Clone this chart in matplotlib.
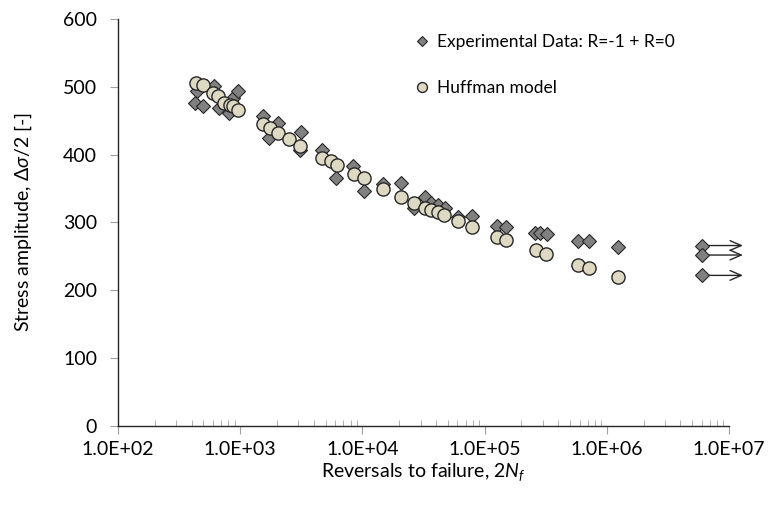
import numpy as np
import matplotlib
matplotlib.use("Agg")
import matplotlib.pyplot as plt
from matplotlib.ticker import FuncFormatter, LogLocator

plt.rcParams["font.family"] = ["Lato", "DejaVu Sans"]
plt.rcParams["mathtext.fontset"] = "custom"
plt.rcParams["mathtext.it"] = "Lato:italic"
plt.rcParams["mathtext.rm"] = "Lato"

# experimental data (reversals, stress amplitude)
exp_n = [440, 427, 493, 611, 675, 809, 880, 967, 1528, 1730, 2050, 3140, 3080,
         4640, 6090, 8440, 10300, 14800, 20900, 26400, 32500, 36200, 41800, 47400,
         61000, 78900, 127000, 151000, 258000, 284000, 322000, 578000, 710000, 1230000]
exp_s = [494, 476, 471, 501, 468, 461, 483, 494, 457, 424, 446, 433, 407,
         407, 365, 383, 347, 357, 358, 321, 338, 328, 326, 321,
         308, 310, 295, 293, 284, 285, 283, 273, 272, 264]
# run-outs
run_n = [5.97e6, 5.97e6, 5.97e6]
run_s = [266, 252, 222]
run_end = 1.3e7

# Huffman model
huf_n = [435, 493, 603, 658, 736, 826, 880, 967, 1528, 1754, 2050, 2510, 3080,
         4640, 5500, 6170, 8540, 10300, 14800, 20900, 26400, 32500, 36200, 41800,
         46800, 61000, 78900, 127000, 151000, 263000, 318000, 578000, 710000, 1230000]
huf_s = [506, 503, 491, 486, 476, 473, 471, 466, 445, 439, 432, 423, 413,
         395, 390, 385, 372, 365, 349, 338, 329, 322, 319, 315,
         311, 302, 294, 279, 274, 259, 254, 237, 233, 220]

fig = plt.figure(figsize=(7.71, 5.12), dpi=100)
ax = fig.add_axes([0.153, 0.168, 0.7925, 0.795])

for n, s in zip(run_n, run_s):
    ax.annotate("", xy=(run_end, s), xytext=(n, s), annotation_clip=False,
                arrowprops=dict(arrowstyle="->,head_length=0.8,head_width=0.35", color="#262626", lw=1.0,
                                shrinkA=0, shrinkB=0), zorder=2)

ax.plot(exp_n + run_n, exp_s + run_s, ls="none", marker="D", ms=7, mfc="#808080", mec="#262626",
        mew=0.8, label="Experimental Data: R=-1 + R=0", zorder=3, clip_on=False)
ax.plot(huf_n, huf_s, ls="none", marker="o", ms=9.5, mfc="#DDD9C3", mec="#262626",
        mew=1.0, label="Huffman model", zorder=4, clip_on=False)

ax.set_xscale("log")
ax.set_xlim(1e2, 1e7)
ax.set_ylim(0, 600)
ax.set_yticks(np.arange(0, 601, 100))
ax.xaxis.set_major_locator(LogLocator(base=10, numticks=10))
ax.xaxis.set_minor_locator(LogLocator(base=10, subs=np.arange(2, 10), numticks=100))
ax.xaxis.set_major_formatter(FuncFormatter(lambda v, p: "%.1E" % v))
ax.tick_params(axis="x", which="major", direction="out", length=6, color="#a0a0a0", labelsize=14, pad=5)
ax.tick_params(axis="x", which="minor", direction="in", length=4, color="#a0a0a0")
ax.tick_params(axis="y", which="major", direction="out", length=6, color="#a0a0a0", labelsize=14, pad=9)

for sp in ["top", "right"]:
    ax.spines[sp].set_visible(False)
for sp in ["left", "bottom"]:
    ax.spines[sp].set_color("#262626")
    ax.spines[sp].set_linewidth(1.0)

ax.set_xlabel(r"Reversals to failure, $\mathit{2N_f}$", fontsize=14, labelpad=2)
ax.set_ylabel(r"Stress amplitude, $\mathit{\Delta\sigma/2}$ [-]", fontsize=14, labelpad=21)

ax.legend(loc="upper left", bbox_to_anchor=(0.483, 0.963), borderaxespad=0, borderpad=0,
          frameon=False, fontsize=12.5, handletextpad=0.4, labelspacing=1.75,
          markerscale=0.75, handlelength=1.0)

fig.savefig("out.png", dpi=100)
